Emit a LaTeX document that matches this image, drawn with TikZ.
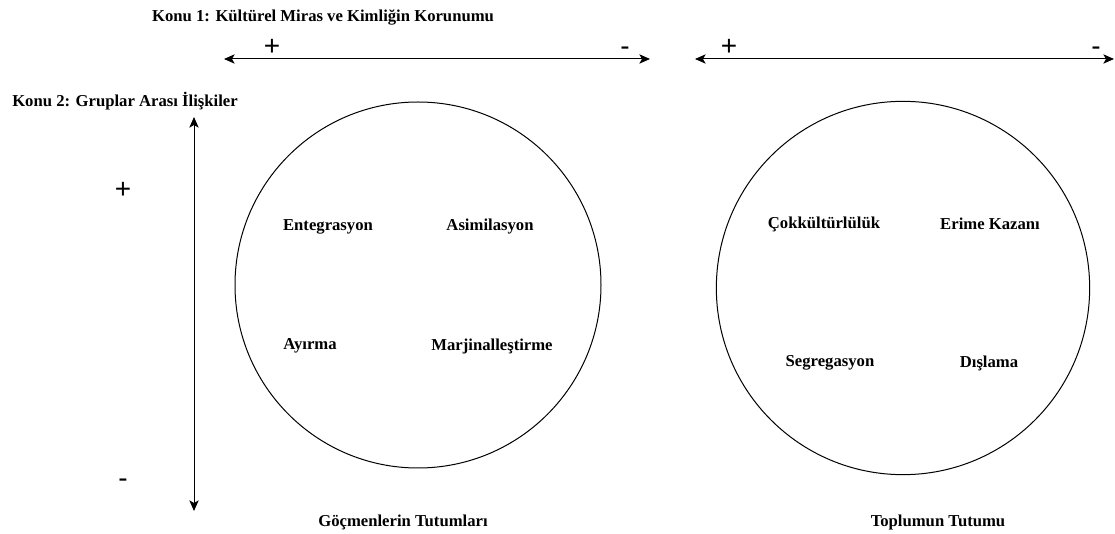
\documentclass[tikz,border=0pt]{standalone}
\usepackage{fontspec}
\setmainfont{Liberation Serif}
\newfontfamily\signfont{Liberation Sans}
\usetikzlibrary{arrows.meta}

\begin{document}
\begin{tikzpicture}[x=0.75pt, y=-0.75pt,
    labelStyle/.style={font=\bfseries\fontsize{12.5}{15}\selectfont, inner sep=0pt},
    signStyle/.style={font=\signfont\fontsize{21}{24}\selectfont, inner sep=0pt, anchor=base},
    ringStyle/.style={circle, draw, line width=0.75pt, inner sep=0pt},
    axisStyle/.style={line width=0.75pt, {Stealth[length=8pt, width=7pt, inset=2pt]}-{Stealth[length=8pt, width=7pt, inset=2pt]}}]
                    \useasboundingbox (0, 0) rectangle (1115, 534);

                    \node[labelStyle](konu1) at (323, 17) {Konu 1: Kültürel Miras ve Kimliğin Korunumu};
                    \node[labelStyle](konu2) at (125, 101) {Konu 2: Gruplar Arası İlişkiler};

                    \coordinate (a1) at (224, 59);
                    \coordinate (a2) at (650, 59);
                    \coordinate (b1) at (695, 59);
                    \coordinate (b2) at (1114, 59);
                    \coordinate (c1) at (194, 117);
                    \coordinate (c2) at (194, 511);

                    \node[signStyle](ap) at (272, 56) {+};
                    \node[signStyle](am) at (625, 56) {-};
                    \node[signStyle](bp) at (729, 56) {+};
                    \node[signStyle](bm) at (1096, 56) {-};
                    \node[signStyle](cp) at (123, 199) {+};
                    \node[signStyle](cm) at (123, 488) {-};

                    \node[ringStyle, minimum size=274.5pt](leftRing) at (418, 285) {};
                    \node[ringStyle, minimum size=280pt](rightRing) at (903, 288) {};

                    \node[labelStyle](11) at (328, 227) {Entegrasyon};
                    \node[labelStyle](12) at (490, 227) {Asimilasyon};
                    \node[labelStyle](13) at (310, 346) {Ayırma};
                    \node[labelStyle](14) at (492, 346) {Marjinalleştirme};

                    \node[labelStyle](21) at (824, 224) {Çokkültürlülük};
                    \node[labelStyle](22) at (990, 224) {Erime Kazanı};
                    \node[labelStyle](23) at (830, 363) {Segregasyon};
                    \node[labelStyle](24) at (989, 363) {Dışlama};

                    \node[labelStyle](leftName) at (403, 522) {Göçmenlerin Tutumları};
                    \node[labelStyle](rightName) at (938, 522) {Toplumun Tutumu};

                    \draw[axisStyle] (a1) -- (a2);
                    \draw[axisStyle] (b1) -- (b2);
                    \draw[axisStyle] (c1) -- (c2);
                \end{tikzpicture}
\end{document}
